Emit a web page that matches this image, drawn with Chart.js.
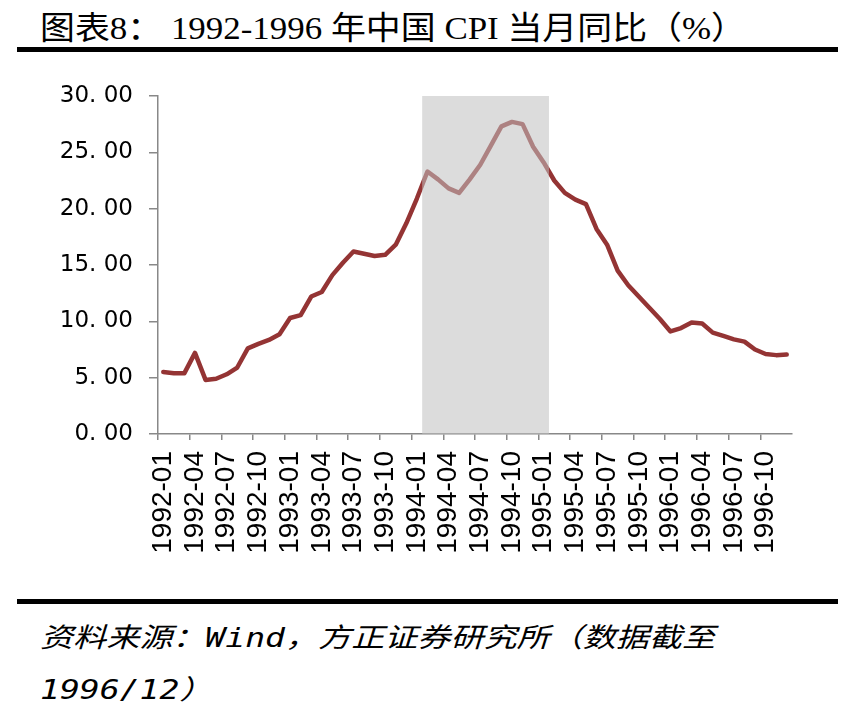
<!DOCTYPE html>
<html>
<head>
<meta charset="utf-8">
<script src="https://cdn.jsdelivr.net/npm/chart.js@4.4.1/dist/chart.umd.min.js"></script>
<style>
  html, body { margin: 0; padding: 0; background: #fff; }
  body { width: 857px; height: 708px; position: relative; overflow: hidden; }
  .title { position: absolute; left: 40px; top: 10px; font-family: "Liberation Serif", "Noto Sans CJK SC", serif; font-size: 32px; line-height: 36px; white-space: nowrap; transform-origin: left top; color: #000; }
  .rule { position: absolute; left: 17px; width: 821px; height: 5px; background: #000; }
  .source { position: absolute; left: 40px; top: 612px; font-family: "DejaVu Sans Mono", "Noto Sans CJK SC", monospace; font-style: italic; font-size: 27px; line-height: 52px; white-space: nowrap; transform-origin: left top; color: #000; }
  #wrap { position: absolute; left: 0; top: 60px; width: 857px; height: 520px; }
</style>
</head>
<body>
<div class="title" id="title">图表8： 1992-1996 年中国 CPI 当月同比（%）</div>
<div class="rule" style="top:47px"></div>
<div id="wrap"><canvas id="cpiChart"></canvas></div>
<div class="rule" style="top:599px"></div>
<div class="source" id="source"><span id="src1">资料来源：Wind，方正证券研究所（数据截至</span><br>1996/12）</div>
<script>
// months 1992-01 .. 1996-12
const months = [
  '1992-01','1992-02','1992-03','1992-04','1992-05','1992-06','1992-07','1992-08','1992-09','1992-10','1992-11','1992-12',
  '1993-01','1993-02','1993-03','1993-04','1993-05','1993-06','1993-07','1993-08','1993-09','1993-10','1993-11','1993-12',
  '1994-01','1994-02','1994-03','1994-04','1994-05','1994-06','1994-07','1994-08','1994-09','1994-10','1994-11','1994-12',
  '1995-01','1995-02','1995-03','1995-04','1995-05','1995-06','1995-07','1995-08','1995-09','1995-10','1995-11','1995-12',
  '1996-01','1996-02','1996-03','1996-04','1996-05','1996-06','1996-07','1996-08','1996-09','1996-10','1996-11','1996-12'
];
// CPI yoy, %
const cpiYoy = [
  5.5, 5.4, 5.4, 7.2, 4.8, 4.9, 5.3, 5.9, 7.6, 8.0, 8.35, 8.85,
  10.3, 10.55, 12.2, 12.6, 14.1, 15.2, 16.2, 16.0, 15.8, 15.9, 16.8, 18.7,
  20.9, 23.3, 22.6, 21.8, 21.4, 22.6, 23.9, 25.6, 27.3, 27.7, 27.5, 25.5,
  24.1, 22.5, 21.4, 20.8, 20.4, 18.2, 16.8, 14.5, 13.2, 12.2, 11.2, 10.2,
  9.1, 9.4, 9.9, 9.8, 9.0, 8.7, 8.4, 8.2, 7.5, 7.1, 7.0, 7.05
];
const yTicks = [0, 5, 10, 15, 20, 25, 30];
// shaded period (first and last month covered)
const shadeFrom = '1994-02';
const shadeTo = '1995-01';

// fit header / footer text widths to the picture
function fitWidth(el, measureEl, target) {
  const w = measureEl.getBoundingClientRect().width;
  el.style.transform = 'scaleX(' + (target / w) + ')';
}
fitWidth(document.getElementById('title'), document.getElementById('title'), 706);
fitWidth(document.getElementById('source'), document.getElementById('src1'), 675);

const shadePlugin = {
  id: 'shade',
  afterDatasetsDraw(chart) {
    const x = chart.scales.x, area = chart.chartArea, c = chart.ctx;
    const half = (x.getPixelForValue(1) - x.getPixelForValue(0)) / 2;
    const x0 = x.getPixelForValue(months.indexOf(shadeFrom)) - half;
    const x1 = x.getPixelForValue(months.indexOf(shadeTo)) + half;
    c.save();
    c.fillStyle = 'rgba(193,193,193,0.56)';
    c.fillRect(x0, area.top, x1 - x0, area.bottom - area.top);
    c.restore();
  }
};

const ctx = document.getElementById('cpiChart').getContext('2d');
new Chart(ctx, {
  type: 'line',
  data: {
    labels: months,
    datasets: [{
      data: cpiYoy, borderColor: '#943434', borderWidth: 4.5, pointRadius: 0,
      tension: 0, fill: false, borderJoinStyle: 'round', borderCapStyle: 'round'
    }]
  },
  options: {
    responsive: true, maintainAspectRatio: false, animation: false,
    layout: { padding: { top: 36, right: 65, left: 0, bottom: 0 } },
    plugins: { legend: { display: false }, tooltip: { enabled: false } },
    scales: {
      x: {
        offset: true,
        afterFit: s => { s.height = 146; },
        border: { color: '#888', width: 1.5 },
        grid: {
          offset: true, drawOnChartArea: false, drawTicks: true, tickLength: 6, lineWidth: 1.5,
          color: c => (c.index % 3 === 0 ? '#888' : 'rgba(0,0,0,0)')
        },
        ticks: {
          autoSkip: false, minRotation: 90, maxRotation: 90, padding: 11, color: '#000',
          font: { family: 'Liberation Sans', size: 28 },
          callback: function (v, i) { return i % 3 === 0 ? months[i] : ''; }
        }
      },
      y: {
        min: 0, max: 30,
        afterFit: s => { s.width = 158; },
        afterBuildTicks: s => { s.ticks = yTicks.map(v => ({ value: v })); },
        border: { color: '#888', width: 1.5 },
        grid: { drawOnChartArea: false, drawTicks: true, tickLength: 9, color: '#888', lineWidth: 1.5 },
        ticks: {
          padding: 16, color: '#000',
          font: { family: 'DejaVu Sans', size: 23 },
          callback: v => v.toFixed(2).replace('.', '. ')
        }
      }
    }
  },
  plugins: [shadePlugin]
});
</script>
</body>
</html>
